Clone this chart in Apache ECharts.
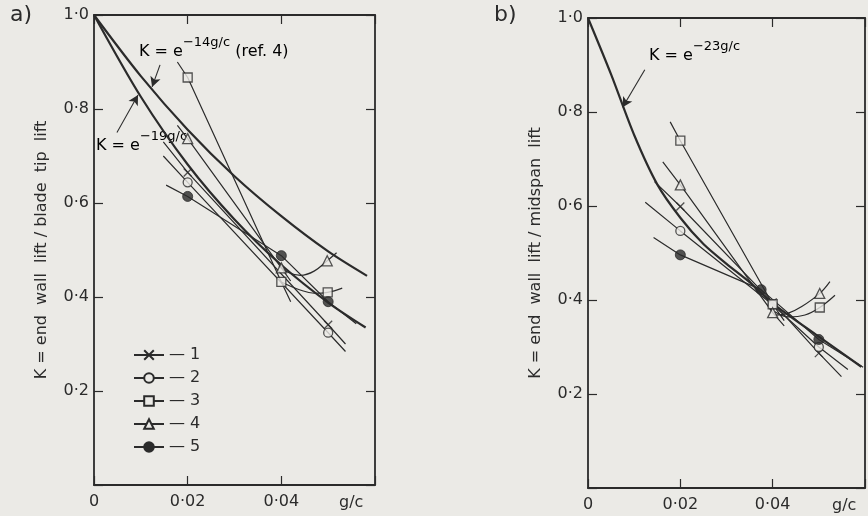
<!DOCTYPE html>
<html>
<head>
<meta charset="utf-8">
<script src="https://cdn.jsdelivr.net/npm/echarts@6/dist/echarts.min.js"></script>
<style>
  html, body { margin: 0; padding: 0; background: #ebeae6; }
  #chart { width: 868px; height: 516px; }
</style>
</head>
<body>
<div id="chart"></div>
<script>
// tick values
const gcTicks = [0, 0.02, 0.04, 0.06];
const kTicks = [0, 0.2, 0.4, 0.6, 0.8, 1.0];

// ---- panel a) : end wall lift / blade tip lift ----
// exponential curves
const aExp14 = [[0, 1.0], [0.01, 0.87], [0.02, 0.756], [0.03, 0.657], [0.04, 0.572], [0.05, 0.497], [0.0583, 0.445]];
const aExp19 = [[0, 1.0], [0.01, 0.826], [0.02, 0.682], [0.03, 0.565], [0.04, 0.468], [0.05, 0.388], [0.058, 0.335]];
// arrows for the labels (tail, head)
const aArrow14 = [[0.0141, 0.894], [0.0124, 0.847]];
const aArrow19 = [[0.0049, 0.75], [0.0094, 0.83]];

// measured points
const aPts1 = [[0.02, 0.665], [0.05, 0.341]];
const aPts2 = [[0.02, 0.644], [0.05, 0.324]];
const aPts3 = [[0.02, 0.867], [0.04, 0.432], [0.0499, 0.41]];
const aPts4 = [[0.02, 0.737], [0.04, 0.462], [0.0498, 0.477]];
const aPts5 = [[0.02, 0.614], [0.04, 0.488], [0.05, 0.39]];
// fitted lines
const aLine1 = [[0.0148, 0.73], [0.02, 0.665], [0.05, 0.341], [0.0537, 0.30]];
const aLine2 = [[0.0148, 0.70], [0.02, 0.644], [0.05, 0.324], [0.0537, 0.284]];
const aLine3 = [[0.0178, 0.90], [0.02, 0.867], [0.04, 0.432], [0.042, 0.39]];
const aCurve3 = [[0.04, 0.432], [0.044, 0.415], [0.047, 0.408], [0.0499, 0.41], [0.053, 0.419]];
const aLine4 = [[0.0178, 0.765], [0.02, 0.737], [0.04, 0.462], [0.042, 0.434]];
const aCurve4 = [[0.0395, 0.466], [0.0415, 0.452], [0.0441, 0.446], [0.047, 0.455], [0.0498, 0.477], [0.0518, 0.494]];
const aLine5 = [[0.0154, 0.638], [0.02, 0.614], [0.04, 0.488], [0.05, 0.39], [0.056, 0.343]];

// ---- panel b) : end wall lift / midspan lift ----
const bExp23 = [[0, 1.0], [0.005, 0.88], [0.01, 0.751], [0.015, 0.646], [0.02, 0.575], [0.025, 0.519],
  [0.03, 0.477], [0.035, 0.438], [0.04, 0.393], [0.05, 0.322], [0.0592, 0.258]];
const bArrow23 = [[0.0123, 0.89], [0.0075, 0.81]];

const bPts1 = [[0.02, 0.599], [0.04, 0.395], [0.05, 0.287]];
const bPts2 = [[0.02, 0.547], [0.04, 0.39], [0.05, 0.30]];
const bPts3 = [[0.02, 0.739], [0.04, 0.391], [0.0502, 0.384]];
const bPts4 = [[0.02, 0.645], [0.04, 0.373], [0.0502, 0.414]];
const bPts5 = [[0.02, 0.496], [0.0375, 0.422], [0.05, 0.316]];
const bLine1 = [[0.0144, 0.652], [0.02, 0.599], [0.04, 0.395], [0.05, 0.287], [0.0549, 0.237]];
const bLine2 = [[0.0124, 0.608], [0.02, 0.547], [0.04, 0.39], [0.05, 0.30], [0.0563, 0.252]];
const bLine3 = [[0.0178, 0.779], [0.02, 0.739], [0.04, 0.391], [0.0425, 0.356]];
const bCurve3 = [[0.0405, 0.375], [0.0434, 0.364], [0.047, 0.368], [0.0502, 0.384], [0.0535, 0.41]];
const bLine4 = [[0.0162, 0.694], [0.02, 0.645], [0.04, 0.373], [0.0425, 0.345]];
const bCurve4 = [[0.0405, 0.368], [0.0434, 0.372], [0.0463, 0.386], [0.0502, 0.414], [0.0524, 0.439]];
const bLine5 = [[0.0142, 0.533], [0.02, 0.496], [0.0375, 0.422], [0.05, 0.316], [0.0596, 0.257]];

const legendNames = ['1', '2', '3', '4', '5'];

const ink = '#2b2b2b';
const paper = '#ebeae6';
const font = 'DejaVu Sans';

// marker styles for the 5 series
const marks = [
  { symbol: 'path://M0,0L10,10M0,10L10,0', size: 8, style: { color: paper, borderColor: ink, borderWidth: 1.3 } },
  { symbol: 'circle', size: 9, style: { color: paper, borderColor: ink, borderWidth: 1.3 } },
  { symbol: 'rect', size: 9, style: { color: paper, borderColor: ink, borderWidth: 1.3 } },
  { symbol: 'triangle', size: 10, style: { color: paper, borderColor: ink, borderWidth: 1.3 } },
  { symbol: 'circle', size: 10, style: { color: ink, borderColor: ink, borderWidth: 1 } }
];

function fmtGc(v) {
  if (v > 0.059) return '';
  if (v === 0) return '0';
  return v.toFixed(2).replace('.', '·');
}
function fmtK(v) {
  if (v < 0.01) return '';
  return v.toFixed(1).replace('.', '·');
}

function xAx(grid, pos, labels, nameGap) {
  return {
    type: 'value', gridIndex: grid, position: pos,
    min: gcTicks[0], max: gcTicks[gcTicks.length - 1], interval: 0.02,
    name: labels ? 'g/c' : '', nameLocation: 'end', nameGap: nameGap,
    nameTextStyle: { color: ink, fontSize: 16, fontFamily: font, verticalAlign: 'top', padding: [10, 0, 0, 0] },
    axisLine: { show: true, onZero: false, lineStyle: { color: ink, width: 1.8 } },
    axisTick: { show: true, inside: true, length: 9, lineStyle: { color: ink, width: 1.2 } },
    splitLine: { show: false },
    axisLabel: { show: labels, margin: 9, color: ink, fontSize: 16, fontFamily: font, formatter: fmtGc }
  };
}
function yAx(grid, pos, labels, name) {
  return {
    type: 'value', gridIndex: grid, position: pos,
    min: kTicks[0], max: kTicks[kTicks.length - 1], interval: 0.2,
    name: name, nameLocation: 'middle', nameGap: 44,
    nameTextStyle: { color: ink, fontSize: 16, fontFamily: font },
    axisLine: { show: true, onZero: false, lineStyle: { color: ink, width: 1.8 } },
    axisTick: { show: true, inside: true, length: 9, lineStyle: { color: ink, width: 1.2 } },
    splitLine: { show: false },
    axisLabel: { show: labels, margin: 5, color: ink, fontSize: 16, fontFamily: font, formatter: fmtK }
  };
}

function fitLine(name, data, ax, m, smooth) {
  return {
    type: 'line', name: name, xAxisIndex: ax, yAxisIndex: ax, data: data,
    smooth: smooth ? 0.4 : false, symbol: m.symbol, symbolSize: m.size, showSymbol: false,
    itemStyle: m.style, lineStyle: { color: ink, width: 1.2 }, z: 2, silent: true
  };
}
function markers(name, data, ax, m) {
  return {
    type: 'scatter', name: name, xAxisIndex: ax, yAxisIndex: ax, data: data,
    symbol: m.symbol, symbolSize: m.size, itemStyle: m.style, z: 5, silent: true
  };
}
function expCurve(name, data, ax, arrow) {
  return {
    type: 'line', name: name, xAxisIndex: ax, yAxisIndex: ax, data: data,
    smooth: 0.3, showSymbol: false, lineStyle: { color: ink, width: 2.2 }, z: 3, silent: true,
    markLine: {
      silent: true, symbol: ['none', 'arrow'], symbolSize: [8, 10],
      lineStyle: { color: ink, width: 1.1, type: 'solid' }, label: { show: false },
      data: [[{ coord: arrow[0] }, { coord: arrow[1] }]]
    }
  };
}

const aLines = [aLine1, aLine2, aLine3, aLine4, aLine5];
const aPts = [aPts1, aPts2, aPts3, aPts4, aPts5];
const bLines = [bLine1, bLine2, bLine3, bLine4, bLine5];
const bPts = [bPts1, bPts2, bPts3, bPts4, bPts5];

let series = [];
for (let i = 0; i < 5; i++) {
  series.push(fitLine(legendNames[i], aLines[i], 0, marks[i], false));
  series.push(markers('pa' + i, aPts[i], 0, marks[i]));
  series.push(fitLine('b' + legendNames[i], bLines[i], 2, marks[i], false));
  series.push(markers('pb' + i, bPts[i], 2, marks[i]));
}
series.push(fitLine('a3c', aCurve3, 0, marks[2], true));
series.push(fitLine('a4c', aCurve4, 0, marks[3], true));
series.push(fitLine('b3c', bCurve3, 2, marks[2], true));
series.push(fitLine('b4c', bCurve4, 2, marks[3], true));
series.push(expCurve('e14', aExp14, 0, aArrow14));
series.push(expCurve('e19', aExp19, 0, aArrow19));
series.push(expCurve('e23', bExp23, 2, bArrow23));

const rich = {
  m: { fontSize: 16, fontFamily: font, color: ink, lineHeight: 24, verticalAlign: 'bottom' },
  s: { fontSize: 13, fontFamily: font, color: ink, lineHeight: 13, verticalAlign: 'top' }
};

const chart = echarts.init(document.getElementById('chart'));
chart.setOption({
  animation: false,
  backgroundColor: paper,
  grid: [
    { left: 94, top: 15, width: 281, height: 470 },
    { left: 588, top: 18, width: 278, height: 470 }
  ],
  xAxis: [xAx(0, 'bottom', true, -36), xAx(0, 'top', false, 0), xAx(1, 'bottom', true, -33), xAx(1, 'top', false, 0)],
  yAxis: [
    yAx(0, 'left', true, 'K = end  wall  lift / blade  tip  lift'), yAx(0, 'right', false, ''),
    yAx(1, 'left', true, 'K = end  wall  lift / midspan  lift'), yAx(1, 'right', false, '')
  ],
  legend: {
    data: legendNames, orient: 'vertical', left: 128, top: 342, itemGap: 7,
    itemWidth: 30, itemHeight: 12, selectedMode: false,
    formatter: n => '— ' + n,
    textStyle: { color: ink, fontSize: 16, fontFamily: font }
  },
  graphic: [
    { type: 'text', left: 10, top: 4, style: { text: 'a)', fill: ink, font: '22px "DejaVu Sans"' } },
    { type: 'text', left: 494, top: 4, style: { text: 'b)', fill: ink, font: '22px "DejaVu Sans"' } },
    { type: 'text', left: 139, top: 36, style: { text: '{m|K = e}{s|−14g/c}{m| (ref. 4)}', rich: rich } },
    { type: 'text', left: 96, top: 130, style: { text: '{m|K = e}{s|−19g/c}', rich: rich } },
    { type: 'text', left: 649, top: 40, style: { text: '{m|K = e}{s|−23g/c}', rich: rich } }
  ],
  series: series
});
</script>
</body>
</html>
